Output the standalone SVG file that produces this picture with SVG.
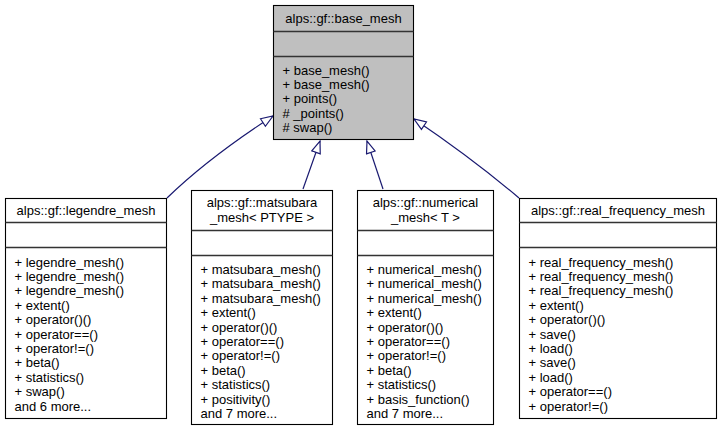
<svg xmlns="http://www.w3.org/2000/svg" width="722" height="433" viewBox="0 0 722 433">
  <style>
    text { font-family: "Liberation Sans", Helvetica, Arial, sans-serif; font-size: 13px; fill: #000; }
    .title { text-anchor: middle; }
    .box { fill: #fff; stroke: #000; stroke-width: 1.1; }
    .base { fill: #bfbfbf; }
    .sep { stroke: #333; stroke-width: 1.3; }
    .edge { fill: none; stroke: #191970; stroke-width: 1.2; marker-end: url(#inherit); }
  </style>
  <defs>
    <!-- hollow triangle for the inheritance relation -->
    <marker id="inherit" markerUnits="userSpaceOnUse" markerWidth="14" markerHeight="12" viewBox="-1 -1 14 12" refX="12" refY="4.5" orient="auto">
      <path d="M0,0 L12,4.5 L0,9 Z" fill="#fff" stroke="#191970" stroke-width="1.2"/>
    </marker>
  </defs>

  <!-- inheritance connectors -->
  <g id="edges">
    <path class="edge" d="M167,198 C200,166 236,140 273,116"/>
    <path class="edge" d="M303,189 L320,141"/>
    <path class="edge" d="M383,189 L367,141"/>
    <path class="edge" d="M519,198 C486,170 451,144 414,119"/>
  </g>

  <!-- base class -->
  <g id="base_mesh">
    <rect class="box base" x="273.5" y="5.5" width="140" height="134"/>
    <line class="sep" x1="273.5" y1="31.5" x2="413.5" y2="31.5"/>
    <line class="sep" x1="273.5" y1="56.5" x2="413.5" y2="56.5"/>
    <text class="title" x="343.5" y="23">alps::gf::base_mesh</text>
    <text x="282.5" y="74.5">+ base_mesh()</text>
    <text x="282.5" y="88.9">+ base_mesh()</text>
    <text x="282.5" y="103.3">+ points()</text>
    <text x="282.5" y="117.7"># _points()</text>
    <text x="282.5" y="132.1"># swap()</text>
  </g>

  <g id="legendre_mesh">
    <rect class="box" x="5.5" y="198.5" width="161" height="220"/>
    <line class="sep" x1="5.5" y1="222.5" x2="166.5" y2="222.5"/>
    <line class="sep" x1="5.5" y1="247.5" x2="166.5" y2="247.5"/>
    <text class="title" x="86" y="215">alps::gf::legendre_mesh</text>
    <text x="14.5" y="266.5">+ legendre_mesh()</text>
    <text x="14.5" y="280.9">+ legendre_mesh()</text>
    <text x="14.5" y="295.3">+ legendre_mesh()</text>
    <text x="14.5" y="309.7">+ extent()</text>
    <text x="14.5" y="324.1">+ operator()()</text>
    <text x="14.5" y="338.5">+ operator==()</text>
    <text x="14.5" y="352.9">+ operator!=()</text>
    <text x="14.5" y="367.3">+ beta()</text>
    <text x="14.5" y="381.7">+ statistics()</text>
    <text x="14.5" y="396.1">+ swap()</text>
    <text x="14.5" y="410.5">and 6 more...</text>
  </g>

  <g id="matsubara_mesh">
    <rect class="box" x="191.5" y="190.5" width="141" height="234"/>
    <line class="sep" x1="191.5" y1="230.5" x2="332.5" y2="230.5"/>
    <line class="sep" x1="191.5" y1="255.5" x2="332.5" y2="255.5"/>
    <text class="title" x="262" y="207">alps::gf::matsubara</text>
    <text class="title" x="262" y="222">_mesh&lt; PTYPE &gt;</text>
    <text x="200.5" y="274">+ matsubara_mesh()</text>
    <text x="200.5" y="288.4">+ matsubara_mesh()</text>
    <text x="200.5" y="302.8">+ matsubara_mesh()</text>
    <text x="200.5" y="317.2">+ extent()</text>
    <text x="200.5" y="331.6">+ operator()()</text>
    <text x="200.5" y="346">+ operator==()</text>
    <text x="200.5" y="360.4">+ operator!=()</text>
    <text x="200.5" y="374.8">+ beta()</text>
    <text x="200.5" y="389.2">+ statistics()</text>
    <text x="200.5" y="403.6">+ positivity()</text>
    <text x="200.5" y="418">and 7 more...</text>
  </g>

  <g id="numerical_mesh">
    <rect class="box" x="357.5" y="190.5" width="136" height="234"/>
    <line class="sep" x1="357.5" y1="230.5" x2="493.5" y2="230.5"/>
    <line class="sep" x1="357.5" y1="255.5" x2="493.5" y2="255.5"/>
    <text class="title" x="425.5" y="207">alps::gf::numerical</text>
    <text class="title" x="425.5" y="222">_mesh&lt; T &gt;</text>
    <text x="366.5" y="274">+ numerical_mesh()</text>
    <text x="366.5" y="288.4">+ numerical_mesh()</text>
    <text x="366.5" y="302.8">+ numerical_mesh()</text>
    <text x="366.5" y="317.2">+ extent()</text>
    <text x="366.5" y="331.6">+ operator()()</text>
    <text x="366.5" y="346">+ operator==()</text>
    <text x="366.5" y="360.4">+ operator!=()</text>
    <text x="366.5" y="374.8">+ beta()</text>
    <text x="366.5" y="389.2">+ statistics()</text>
    <text x="366.5" y="403.6">+ basis_function()</text>
    <text x="366.5" y="418">and 7 more...</text>
  </g>

  <g id="real_frequency_mesh">
    <rect class="box" x="519.5" y="198.5" width="197" height="220"/>
    <line class="sep" x1="519.5" y1="222.5" x2="716.5" y2="222.5"/>
    <line class="sep" x1="519.5" y1="247.5" x2="716.5" y2="247.5"/>
    <text class="title" x="618" y="215">alps::gf::real_frequency_mesh</text>
    <text x="528.5" y="266.5">+ real_frequency_mesh()</text>
    <text x="528.5" y="280.9">+ real_frequency_mesh()</text>
    <text x="528.5" y="295.3">+ real_frequency_mesh()</text>
    <text x="528.5" y="309.7">+ extent()</text>
    <text x="528.5" y="324.1">+ operator()()</text>
    <text x="528.5" y="338.5">+ save()</text>
    <text x="528.5" y="352.9">+ load()</text>
    <text x="528.5" y="367.3">+ save()</text>
    <text x="528.5" y="381.7">+ load()</text>
    <text x="528.5" y="396.1">+ operator==()</text>
    <text x="528.5" y="410.5">+ operator!=()</text>
  </g>
</svg>
